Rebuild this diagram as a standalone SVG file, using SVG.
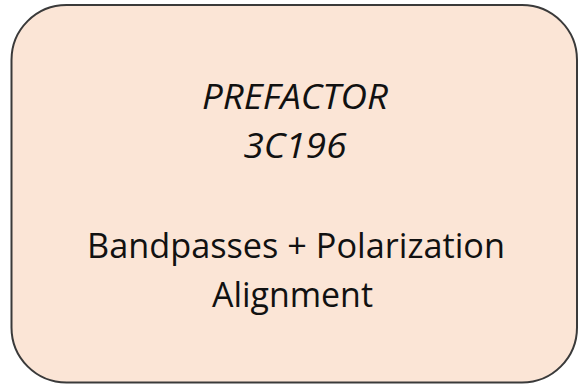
<svg xmlns="http://www.w3.org/2000/svg" width="579" height="388" viewBox="0 0 579 388">
<style>
.box{fill:#FBE5D6;stroke:#3a3a3a;stroke-width:2}
.t{font-family:"Open Sans","Liberation Sans",sans-serif;font-size:34.5px;fill:#111;text-anchor:middle}
.i{font-style:italic;font-size:35px}
</style>
<rect width="579" height="388" fill="#ffffff"/>
<g id="node-prefactor">
<rect class="box" x="11.5" y="5" width="565.5" height="377.5" rx="55" ry="55"/>
<text class="t i" x="295" y="109" textLength="186" lengthAdjust="spacingAndGlyphs">PREFACTOR</text>
<text class="t i" x="295" y="158" textLength="103" lengthAdjust="spacingAndGlyphs">3C196</text>
<text class="t" x="296" y="258" textLength="418" lengthAdjust="spacingAndGlyphs">Bandpasses + Polarization</text>
<text class="t" x="292.5" y="307" textLength="161" lengthAdjust="spacingAndGlyphs">Alignment</text>
</g>
<g id="connectors"></g>
</svg>
